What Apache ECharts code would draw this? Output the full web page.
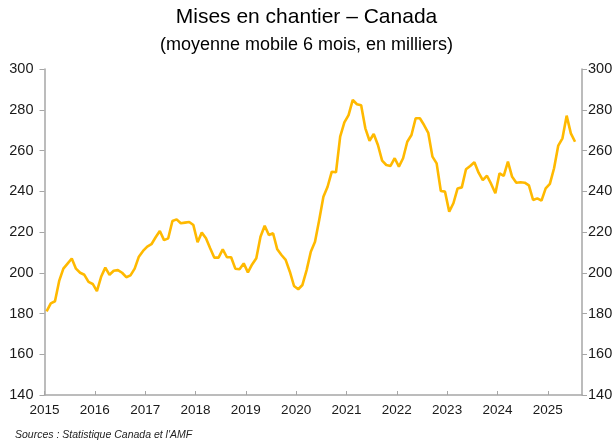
<!DOCTYPE html>
<html>
<head>
<meta charset="utf-8">
<script src="https://cdn.jsdelivr.net/npm/echarts@6/dist/echarts.min.js"></script>
<style>
html,body{margin:0;padding:0;background:#fff;}
#c{width:613px;height:444px;}
</style>
</head>
<body>
<div id="c"></div>
<script>
// Monthly 6-month moving average of housing starts, Canada (thousands), Jan 2015 – Jul 2025
const startYear = 2015;
const startMonth = 0; // January
const values = [
  181, 185, 186, 196, 202, 204.5, 207, 202, 200, 199, 195.5, 194.5,
  191, 198, 202.5, 199, 201, 201.3, 200, 197.8, 198.7, 202, 207.9, 210.7,
  212.8, 214, 217.4, 220.5, 216, 216.9, 225.4, 226.2, 224.3, 224.6, 224.9, 223.4,
  215, 219.7, 216.9, 212, 207.4, 207.4, 211.5, 207.6, 207.6, 202, 201.7, 204.6,
  200.2, 204.1, 207.1, 217.7, 223.1, 218.5, 219.4, 211.5, 208.7, 206.3, 200.5, 193.5,
  191.9, 194, 201.3, 210.3, 215.2, 225.9, 237.3, 242.2, 249.6, 249.3, 266.8, 273.8,
  277.4, 284.8, 282.7, 282.2, 270.9, 264.8, 268.1, 262.7, 255, 252.9, 252.4, 256.2,
  252.1, 256.2, 264.3, 267.6, 275.8, 275.8, 272.5, 268.7, 257, 253.7, 240.1, 239.8,
  230, 234.1, 241.4, 241.9, 250.8, 252.4, 254.2, 249.1, 245.5, 247.6, 243.6, 239,
  248.8, 247.6, 254.5, 247.1, 244.2, 244.4, 244.2, 242.9, 235.7, 236.5, 235.4, 241.4,
  243.6, 251.3, 262.4, 266, 277.1, 268.4, 264.3
];
const yTicks = [140, 160, 180, 200, 220, 240, 260, 280, 300];
const xYears = [2015, 2016, 2017, 2018, 2019, 2020, 2021, 2022, 2023, 2024, 2025];
const titleText = 'Mises en chantier – Canada';
const subtitleText = '(moyenne mobile 6 mois, en milliers)';
const sourceText = "Sources : Statistique Canada et l'AMF";

const seriesData = values.map((v, i) => [startYear + (startMonth + i + 0.5) / 12, v]);

const FONT = '"Liberation Sans", Arial, sans-serif';
const axisColor = '#a6a6a6';
const labelColor = '#1a1a1a';

const chart = echarts.init(document.getElementById('c'), null, {renderer: 'canvas'});
function yAxisDef(pos, margin) {
  return {
    type: 'value',
    position: pos,
    min: yTicks[0],
    max: yTicks[yTicks.length - 1],
    interval: 20,
    splitLine: {show: false},
    axisLine: {show: true, lineStyle: {color: axisColor, width: 1.5}},
    axisTick: {show: true, length: 5, lineStyle: {color: axisColor, width: 1}},
    axisLabel: {color: labelColor, fontFamily: FONT, fontSize: 14.5, margin: margin}
  };
}
chart.setOption({
  animation: false,
  backgroundColor: '#fff',
  title: [
    {text: titleText, left: 'center', top: 2,
     textStyle: {fontFamily: FONT, fontSize: 21, fontWeight: 'normal', color: '#000'}},
    {text: subtitleText, left: 'center', top: 31,
     textStyle: {fontFamily: FONT, fontSize: 18, fontWeight: 'normal', color: '#000'}},
    {text: sourceText, left: 10, top: 425,
     textStyle: {fontFamily: FONT, fontSize: 10.5, fontStyle: 'italic', fontWeight: 'normal', color: '#222'}}
  ],
  grid: {left: 44.5, right: 31, top: 69, bottom: 49, containLabel: false, outerBoundsMode: 'none'},
  xAxis: {
    type: 'value',
    min: xYears[0],
    max: 2025.68,
    interval: 1,
    splitLine: {show: false},
    axisLine: {show: true, lineStyle: {color: axisColor, width: 1.5}},
    axisTick: {show: true, inside: true, length: 4, lineStyle: {color: axisColor}},
    axisLabel: {
      color: labelColor, fontFamily: FONT, fontSize: 13.5, margin: 8,
      showMaxLabel: false,
      formatter: v => (xYears.includes(Math.round(v)) && Math.abs(v - Math.round(v)) < 1e-6) ? String(Math.round(v)) : ''
    }
  },
  yAxis: [yAxisDef('left', 11), yAxisDef('right', 6)],
  series: [{
    type: 'line',
    data: seriesData,
    yAxisIndex: 0,
    showSymbol: false,
    symbol: 'none',
    lineStyle: {color: '#FFB900', width: 2.6},
    itemStyle: {color: '#FFB900'}
  }]
});
</script>
</body>
</html>
